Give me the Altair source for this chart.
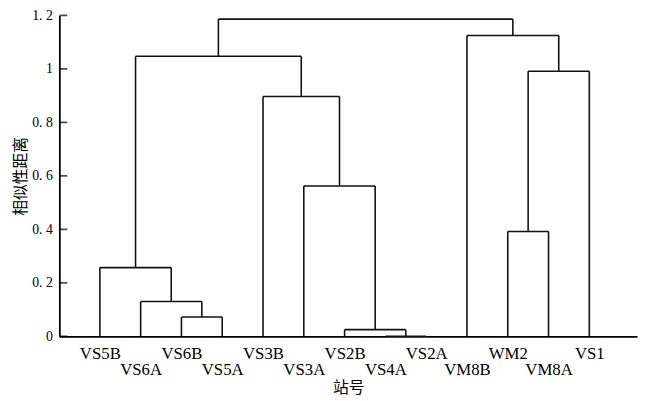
import altair as alt
import pandas as pd

# Leaf order along the x axis
leaves = ["VS5B", "VS6A", "VS6B", "VS5A", "VS3B", "VS3A", "VS2B",
          "VS4A", "VS2A", "VM8B", "WM2", "VM8A", "VS1"]

# Merges: children are leaf names or indices of earlier merges
merge_left = ["VS6B", "VS6A", "VS5B", "VS4A", "VS2B", "VS3A", "VS3B", 2, "WM2", 8, "VM8B", 7]
merge_right = ["VS5A", 0, 1, "VS2A", 3, 4, 5, 6, "VM8A", "VS1", 9, 10]
merge_height = [0.072, 0.13, 0.257, 0.0, 0.025, 0.562, 0.897, 1.047, 0.392, 0.991, 1.125, 1.186]

y_ticks = [0, 0.2, 0.4, 0.6, 0.8, 1.0, 1.2]

# Build dendrogram segments
node_x, node_h = [], []


def pos(ref):
    if isinstance(ref, str):
        return float(leaves.index(ref)), 0.0
    return node_x[ref], node_h[ref]


rows = []
for l, r, h in zip(merge_left, merge_right, merge_height):
    xl, hl = pos(l)
    xr, hr = pos(r)
    rows.append({"x": xl, "x2": xr, "y": h, "y2": h})
    rows.append({"x": xl, "x2": xl, "y": hl, "y2": h})
    rows.append({"x": xr, "x2": xr, "y": hr, "y2": h})
    node_x.append((xl + xr) / 2)
    node_h.append(h)

seg = pd.DataFrame(rows)
ticks_df = pd.DataFrame({"v": y_ticks})

label_expr = "[" + ",".join("'%s'" % s for s in leaves) + "][datum.value]"

xscale = alt.Scale(domain=[-0.993, 13.17], nice=False, zero=False)
yscale = alt.Scale(domain=[0, 1.2], nice=False, zero=True)

rules = alt.Chart(seg).mark_rule(color="#111111", strokeWidth=1.6).encode(
    x=alt.X("x:Q", scale=xscale, axis=alt.Axis(
        title="站号", values=list(range(len(leaves))), labelExpr=label_expr,
        ticks=False, grid=False, labelOverlap=False, labelFlush=False,
        labelFont="Liberation Serif", labelFontSize=17, labelColor="#000000",
        labelPadding={"condition": {"test": "datum.value % 2 == 1", "value": 26}, "value": 9},
        domainColor="#000000", domainWidth=1.8,
        titleFont="Noto Sans CJK SC", titleFontSize=16, titleFontWeight="normal",
        titleColor="#000000", titlePadding=2)),
    x2="x2:Q",
    y=alt.Y("y:Q", scale=yscale, axis=alt.Axis(
        title="相似性距离", values=y_ticks,
        labelExpr="datum.value == 0 ? '0' : datum.value == 1 ? '1' : replace(format(datum.value, '.1f'), '.', '. ')",
        ticks=False, grid=False, labelFont="Liberation Serif", labelFontSize=14,
        labelColor="#000000", labelPadding=7,
        domainColor="#000000", domainWidth=1.8,
        titleFont="Noto Sans CJK SC", titleFontSize=16, titleFontWeight="normal",
        titleColor="#000000", titlePadding=3)),
    y2="y2:Q",
)

yt = alt.Chart(ticks_df).mark_tick(color="#000000", thickness=1.8, size=8).encode(
    y=alt.Y("v:Q", scale=yscale),
    x=alt.value(4),
)

chart = alt.layer(rules, yt).properties(
    width=585, height=325,
    autosize=alt.AutoSizeParams(type="none"),
    padding={"left": 52, "top": 5, "right": 4, "bottom": 62},
    background="white",
).configure_view(stroke=None)

chart.save("out.html", embed_options={"renderer": "svg", "actions": False})
